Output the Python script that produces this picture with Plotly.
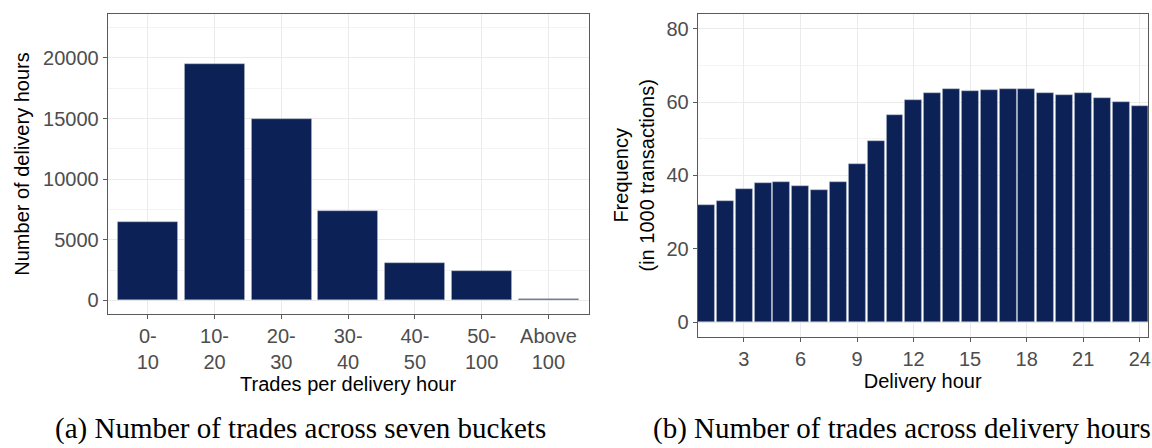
import plotly.graph_objects as go

# ---- data ----
buckets = ["0-10", "10-20", "20-30", "30-40", "40-50", "50-100", "Above 100"]
bucket_labels = ["0-<br>10", "10-<br>20", "20-<br>30", "30-<br>40", "40-<br>50", "50-<br>100", "Above<br>100"]
bucket_counts = [6450, 19500, 14950, 7350, 3120, 2440, 120]

hours = list(range(1, 25))
hour_freq = [31.9, 33.0, 36.2, 37.9, 38.1, 37.1, 36.0, 38.1, 43.2, 49.4, 56.4, 60.5,
             62.4, 63.6, 63.1, 63.3, 63.6, 63.6, 62.4, 62.0, 62.4, 61.1, 59.9, 58.9]
hour_ticks = [3, 6, 9, 12, 15, 18, 21, 24]

left_yticks = [0, 5000, 10000, 15000, 20000]
right_yticks = [0, 20, 40, 60, 80]

BAR = "#0c2156"
OUT = "#b9bfd0"
GRID = "#ebebeb"
MINOR = "#f4f4f4"
BORDER = "#5a5a5a"
TICKC = "#4d4d4d"
FONT = "Liberation Sans"

fig = go.Figure()
fig.add_trace(go.Bar(x=buckets, y=bucket_counts, width=0.9, marker=dict(color=BAR, line=dict(color=OUT, width=0.4)),
                     xaxis="x", yaxis="y", showlegend=False))
fig.add_trace(go.Bar(x=hours, y=hour_freq, width=0.9, marker=dict(color=BAR, line=dict(color=OUT, width=0.5)),
                     xaxis="x2", yaxis="y2", showlegend=False))

axis_common = dict(showline=True, mirror=True, linecolor=BORDER, linewidth=1, ticks="outside", ticklen=4,
                   tickcolor=BORDER, zeroline=False, showgrid=True, gridcolor=GRID, gridwidth=1.2,
                   automargin=False,
                   tickfont=dict(family=FONT, size=20, color=TICKC))

H = 448
W = 1152
fig.update_layout(
    width=W, height=H, margin=dict(l=0, r=0, t=0, b=0),
    paper_bgcolor="white", plot_bgcolor="white", bargap=0,
    font=dict(family=FONT),
    xaxis=dict(axis_common, domain=[107.7 / W, 588.5 / W], anchor="y", type="category",
               range=[-0.6, 6.6], tickvals=buckets, ticktext=bucket_labels,
               title=dict(text="Trades per delivery hour", font=dict(family=FONT, size=20, color="black"), standoff=0)),
    yaxis=dict(axis_common, domain=[1 - 314 / H, 1 - 14 / H], anchor="x", range=[-1125, 23625],
               tickvals=left_yticks, ticktext=[str(v) for v in left_yticks],
               minor=dict(dtick=2500, tick0=2500, showgrid=True, gridcolor=MINOR, gridwidth=0.8, ticks=""),
               title=dict(text="Number of delivery hours", font=dict(family=FONT, size=20, color="black"), standoff=8)),
    xaxis2=dict(axis_common, domain=[697.7 / W, 1147.7 / W], anchor="y2", range=[0.55, 24.42],
                tickvals=hour_ticks, ticktext=[str(v) for v in hour_ticks],
                title=dict(text="Delivery hour", font=dict(family=FONT, size=20, color="black"), standoff=4)),
    yaxis2=dict(axis_common, domain=[1 - 336.7 / H, 1 - 14 / H], anchor="x2", range=[-4, 84],
                tickvals=right_yticks, ticktext=[str(v) for v in right_yticks],
                minor=dict(dtick=20, tick0=10, showgrid=True, gridcolor=MINOR, gridwidth=0.8, ticks=""),
                title=dict(text="Frequency<br>(in 1000 transactions)", font=dict(family=FONT, size=20, color="black"), standoff=6)),
)

fig.add_annotation(text="(a) Number of trades across seven buckets", xref="paper", yref="paper",
                   x=300 / W, y=1 - 428 / H, showarrow=False, xanchor="center", yanchor="middle",
                   font=dict(family="Liberation Serif", size=29, color="black"))
fig.add_annotation(text="(b) Number of trades across delivery hours", xref="paper", yref="paper",
                   x=902 / W, y=1 - 428 / H, showarrow=False, xanchor="center", yanchor="middle",
                   font=dict(family="Liberation Serif", size=29, color="black"))

fig.write_html("out.html", config={"displayModeBar": False},
               post_script="document.body.style.margin='0';document.body.style.padding='0';document.body.style.overflow='hidden';")
